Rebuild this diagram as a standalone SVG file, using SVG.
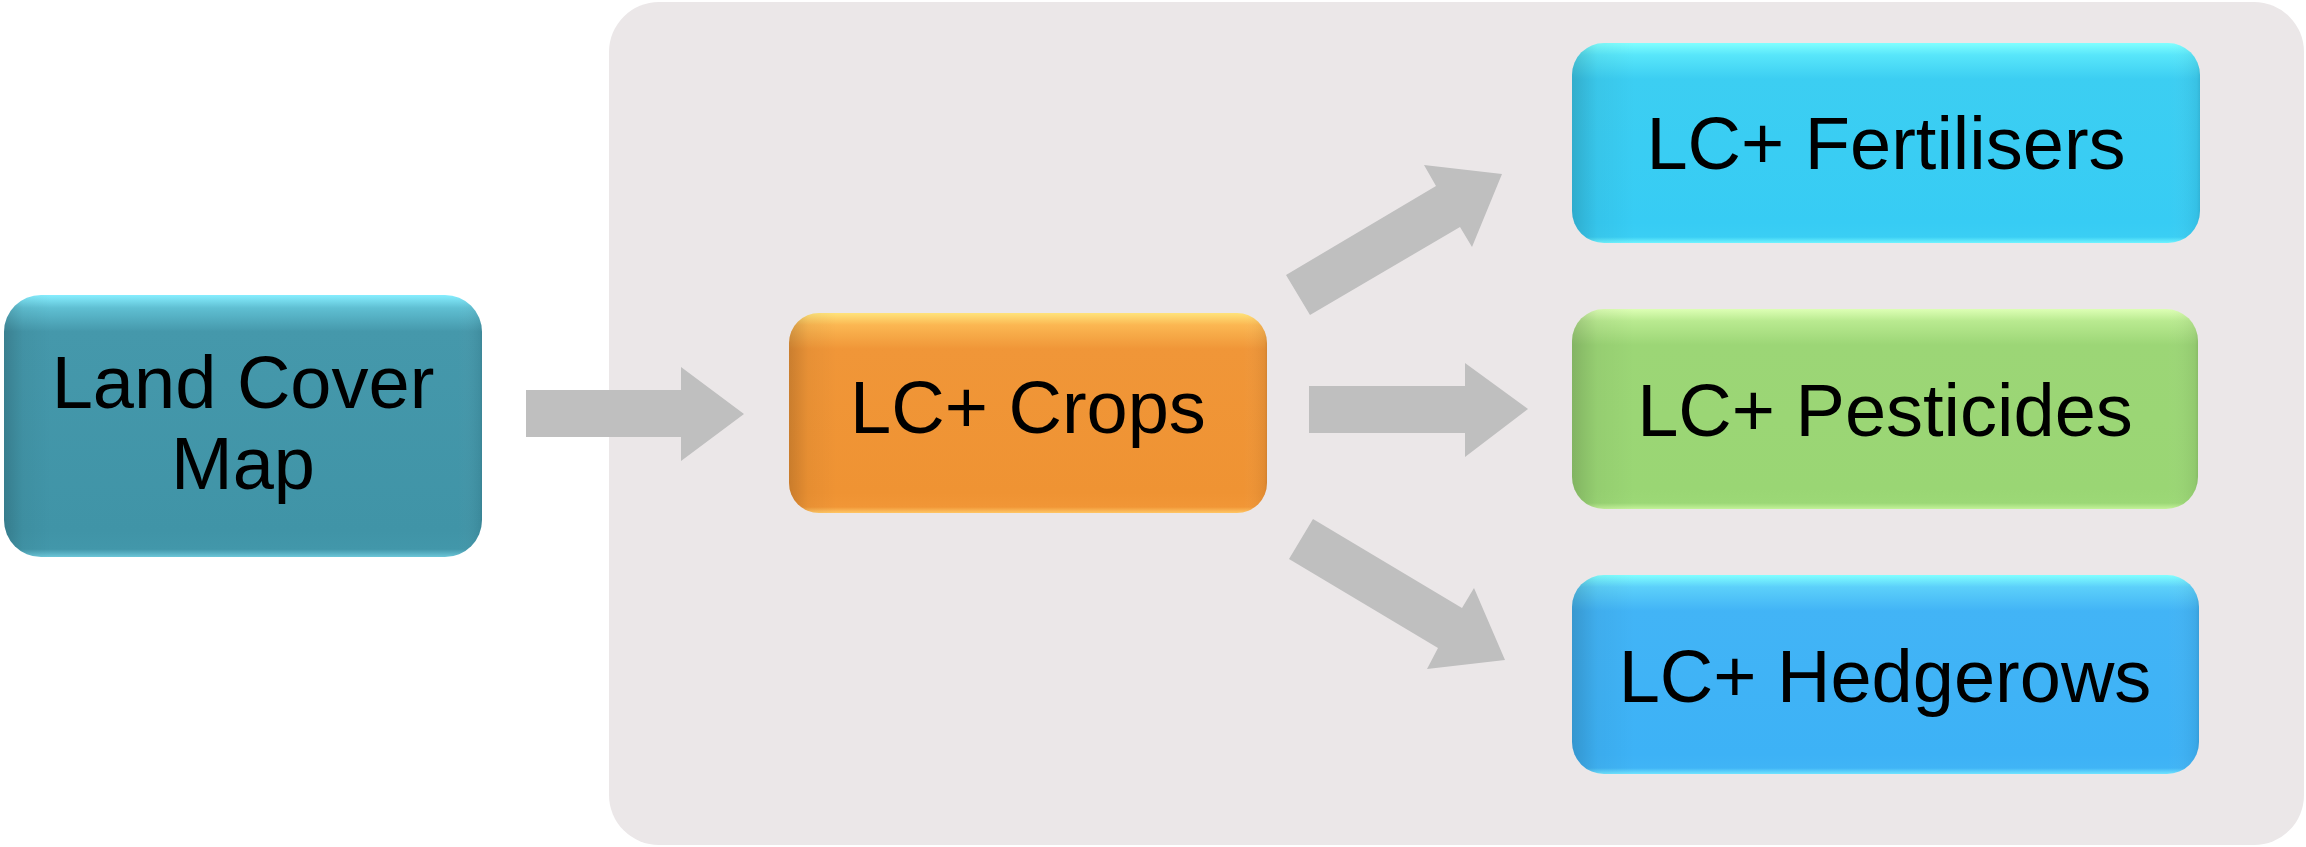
<svg xmlns="http://www.w3.org/2000/svg" width="2306" height="847" viewBox="0 0 2306 847">
  <style>
    .lbl { font-family: "Liberation Sans", Arial, sans-serif; font-size: 74px; fill: #000000; text-anchor: middle; }
    .arrow { fill: #BFBFBF; }
    .edge { fill: url(#edgeShade); }
  </style>
  <defs>
    <linearGradient id="gLand" x1="0" y1="0" x2="0" y2="1">
      <stop offset="0" stop-color="#86EEFF"/>
      <stop offset="0.05" stop-color="#5FBFD2"/>
      <stop offset="0.14" stop-color="#4598AB"/>
      <stop offset="0.9" stop-color="#4094A7"/>
      <stop offset="0.97" stop-color="#4297AA"/>
      <stop offset="1" stop-color="#6CC6D8"/>
    </linearGradient>
    <linearGradient id="gCrops" x1="0" y1="0" x2="0" y2="1">
      <stop offset="0" stop-color="#FFE37A"/>
      <stop offset="0.06" stop-color="#FBB752"/>
      <stop offset="0.18" stop-color="#F09638"/>
      <stop offset="0.9" stop-color="#EF9333"/>
      <stop offset="0.97" stop-color="#F19636"/>
      <stop offset="1" stop-color="#FFC766"/>
    </linearGradient>
    <linearGradient id="gFert" x1="0" y1="0" x2="0" y2="1">
      <stop offset="0" stop-color="#80FFFF"/>
      <stop offset="0.06" stop-color="#58E6FA"/>
      <stop offset="0.18" stop-color="#3CCEF2"/>
      <stop offset="0.9" stop-color="#37CCF4"/>
      <stop offset="0.97" stop-color="#3ACEF4"/>
      <stop offset="1" stop-color="#70F4FF"/>
    </linearGradient>
    <linearGradient id="gPest" x1="0" y1="0" x2="0" y2="1">
      <stop offset="0" stop-color="#DDFFB5"/>
      <stop offset="0.06" stop-color="#B9EA90"/>
      <stop offset="0.18" stop-color="#9CD676"/>
      <stop offset="0.9" stop-color="#9AD674"/>
      <stop offset="0.97" stop-color="#9CD876"/>
      <stop offset="1" stop-color="#C4F29A"/>
    </linearGradient>
    <linearGradient id="gHedge" x1="0" y1="0" x2="0" y2="1">
      <stop offset="0" stop-color="#80FFFF"/>
      <stop offset="0.06" stop-color="#5CD0FA"/>
      <stop offset="0.18" stop-color="#42B4F6"/>
      <stop offset="0.9" stop-color="#3DB2F6"/>
      <stop offset="0.97" stop-color="#40B4F6"/>
      <stop offset="1" stop-color="#70E4FF"/>
    </linearGradient>
    <linearGradient id="edgeShade" x1="0" y1="0" x2="1" y2="0">
      <stop offset="0" stop-color="#000000" stop-opacity="0.16"/>
      <stop offset="0.04" stop-color="#000000" stop-opacity="0.04"/>
      <stop offset="0.1" stop-color="#000000" stop-opacity="0"/>
      <stop offset="0.95" stop-color="#FFFFFF" stop-opacity="0"/>
      <stop offset="0.995" stop-color="#000000" stop-opacity="0.06"/>
      <stop offset="1" stop-color="#000000" stop-opacity="0.12"/>
    </linearGradient>
  </defs>

  <rect width="2306" height="847" fill="#FFFFFF"/>

  <g id="panel">
    <rect x="609" y="2" width="1695" height="843" rx="50" ry="50" fill="#EBE7E8"/>
  </g>

  <g id="connectors">
    <polygon class="arrow" points="526,390 681,390 681,367 744,414 681,461 681,437 526,437"/>
    <polygon class="arrow" points="1309,386 1465,386 1465,363 1528,409 1465,457 1465,433 1309,433"/>
    <polygon class="arrow" points="1286,275 1436,186 1424,165 1502,174 1472,247 1460,227 1310,315"/>
    <polygon class="arrow" points="1313,519 1462,608 1474,588 1505,660 1427,669 1438,648 1289,559"/>
  </g>

  <g id="node-land-cover-map">
    <rect x="4" y="295" width="478" height="262" rx="37" ry="37" fill="url(#gLand)"/>
    <rect class="edge" x="4" y="295" width="478" height="262" rx="37" ry="37"/>
    <text class="lbl" x="243" y="408">Land Cover</text>
    <text class="lbl" x="243" y="489">Map</text>
  </g>

  <g id="node-crops">
    <rect x="789" y="313" width="478" height="200" rx="30" ry="30" fill="url(#gCrops)"/>
    <rect class="edge" x="789" y="313" width="478" height="200" rx="30" ry="30"/>
    <text class="lbl" x="1028" y="433">LC+ Crops</text>
  </g>

  <g id="node-fertilisers">
    <rect x="1572" y="43" width="628" height="200" rx="32" ry="32" fill="url(#gFert)"/>
    <rect class="edge" x="1572" y="43" width="628" height="200" rx="32" ry="32"/>
    <text class="lbl" x="1886" y="169">LC+ Fertilisers</text>
  </g>

  <g id="node-pesticides">
    <rect x="1572" y="309" width="626" height="200" rx="32" ry="32" fill="url(#gPest)"/>
    <rect class="edge" x="1572" y="309" width="626" height="200" rx="32" ry="32"/>
    <text class="lbl" x="1885" y="436">LC+ Pesticides</text>
  </g>

  <g id="node-hedgerows">
    <rect x="1572" y="575" width="627" height="199" rx="32" ry="32" fill="url(#gHedge)"/>
    <rect class="edge" x="1572" y="575" width="627" height="199" rx="32" ry="32"/>
    <text class="lbl" x="1885" y="702">LC+ Hedgerows</text>
  </g>
</svg>
